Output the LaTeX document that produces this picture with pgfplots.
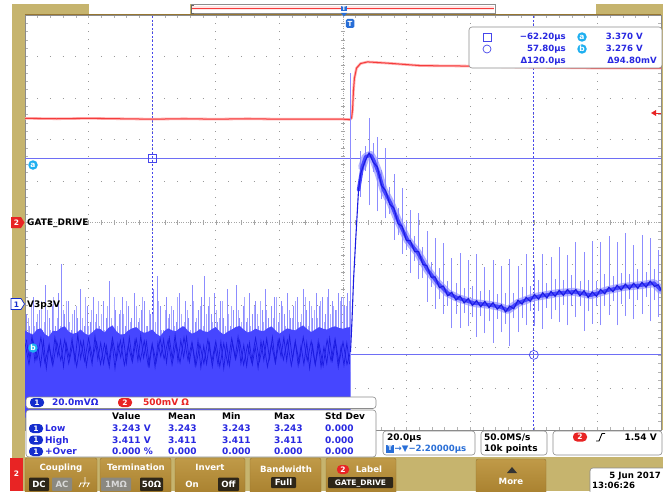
\documentclass[border=0pt]{standalone}
\usepackage{pgfplots}
\pgfplotsset{compat=1.18}
\usepackage{fontspec}
\setmainfont{DejaVu Sans}
\definecolor{tan}{RGB}{198,180,110}
\definecolor{tanline}{RGB}{150,118,50}
\definecolor{btn}{RGB}{168,128,46}
\definecolor{btnlight}{RGB}{192,154,72}
\definecolor{btndark}{RGB}{46,38,24}
\definecolor{btngray}{RGB}{138,136,128}
\definecolor{tekred}{RGB}{232,36,36}
\definecolor{trcred}{RGB}{245,60,60}
\definecolor{trclight}{RGB}{255,175,175}
\definecolor{cyanb}{RGB}{30,175,240}
\definecolor{curs}{RGB}{110,110,245}
\definecolor{cursd}{RGB}{70,70,235}
\definecolor{txtblue}{RGB}{40,40,225}
\definecolor{trA}{RGB}{28,28,225}
\definecolor{trB}{RGB}{70,70,255}
\definecolor{trC}{RGB}{180,180,255}
\definecolor{spk}{RGB}{140,140,255}
\definecolor{spkl}{RGB}{170,170,255}
\definecolor{chblue}{RGB}{20,45,205}
\definecolor{tblue}{RGB}{40,110,215}
\newcommand{\fsa}{\fontsize{9}{10}\selectfont\bfseries}
\newcommand{\fsb}{\fontsize{8.6}{10}\selectfont\bfseries}
\newcommand{\fsc}{\fontsize{7.5}{9}\selectfont\bfseries}
\tikzset{t/.style={anchor=west, inner sep=0pt, text height=6.8pt, text depth=1.8pt},
 te/.style={anchor=east, inner sep=0pt, text height=6.8pt, text depth=1.8pt},
 tc/.style={anchor=center, inner sep=0pt, text height=6.8pt, text depth=1.8pt},
 pill/.style={fill=chblue, text=white, rounded corners=4pt, inner sep=0pt, minimum width=14pt, minimum height=9pt, font=\fsc},
 rpill/.style={fill=tekred, text=white, rounded corners=4pt, inner sep=0pt, minimum width=14pt, minimum height=9pt, font=\fsc},
 cbadge/.style={circle, fill=cyanb, text=white, inner sep=0pt, minimum size=9.5pt, font=\fsc},
 rbox/.style={draw=black!45, fill=white, rounded corners=3pt, line width=0.6pt},
 button/.style={draw=tanline, top color=btnlight, bottom color=btn, rounded corners=2pt},
 dk/.style={fill=btndark, rounded corners=1pt},
 gy/.style={fill=btngray, rounded corners=1pt}}
\begin{document}
\begin{tikzpicture}
\useasboundingbox (0,0) rectangle (663pt,491pt);
\begin{scope}[shift={(0pt,491pt)},x=1pt,y=-1pt]
\fill[white] (0,0) rectangle (663,491);
\fill[tan] (12,4) rectangle (663,491);
\fill[white] (25,430) rectangle (663,457);
\fill[white] (89,4) rectangle (190,14);
\fill[white] (496,4) rectangle (596,14);
\draw[black!45, fill=white] (191,4.5) rectangle (495,13.5);
\fill[red!10] (192,6.5) rectangle (494,10.5);
\draw[trcred, line width=0.8pt] (192,8.5) -- (494,8.5);
\draw[black!60, line width=0.8pt] (194,5) -- (191,5) -- (191,13) -- (194,13);
\end{scope}

\begin{axis}[
  at={(25pt,61pt)}, anchor=south west,
  scale only axis, width=636pt, height=415pt,
  xmin=-100, xmax=100, ymin=-5, ymax=5,
  xtick={-100,-80,...,100}, ytick={-5,-4,...,5},
  minor x tick num=4, minor y tick num=4,
  xticklabels={}, yticklabels={},
  tick align=inside, major tick length=3pt, minor tick length=3pt,
  tick style={black!30, line width=0.6pt},
  xmajorgrids=true, ymajorgrids=true,
  x grid style={black!40, line width=0.9pt, dash pattern=on 0.9pt off 7.4pt, dash phase=0.45pt},
  y grid style={black!40, line width=0.9pt, dash pattern=on 0.9pt off 11.82pt, dash phase=0.45pt},
  axis line style={black!45, line width=0.6pt},
  axis background/.style={fill=white},
  clip=true,
]
% centre lines of the graticule
\draw[black!35, dash pattern=on 1pt off 1.4pt] (axis cs:0,-5) -- (axis cs:0,5);
\draw[black!35, dash pattern=on 1pt off 1.4pt] (axis cs:-100,0) -- (axis cs:100,0);
\pgfplotsinvokeforeach{0,...,50}{
  \draw[black!35, line width=0.6pt] (axis cs:-0.7,{-5+0.2*#1}) -- (axis cs:0.7,{-5+0.2*#1});
  \draw[black!35, line width=0.6pt] (axis cs:{-100+4*#1},-0.055) -- (axis cs:{-100+4*#1},0.055);
}
% cursors
\addplot[curs, mark=none, line width=1pt] coordinates {(-100,1.55) (100,1.55)};
\addplot[curs, mark=none, line width=1pt] coordinates {(-100,-3.19) (100,-3.19)};
\addplot[cursd, mark=none, line width=0.7pt, dash pattern=on 2pt off 2pt] coordinates {(-60,-5) (-60,5)};
\addplot[cursd, mark=none, line width=0.7pt, dash pattern=on 2pt off 2pt] coordinates {(60,-5) (60,5)};
% channel 2 (GATE_DRIVE), in divisions
\addplot[trclight, mark=none, line width=2.6pt, line join=round] coordinates {
(-100,2.51) (-90,2.50) (-80,2.51) (-70,2.50) (-60,2.49) (-50,2.50) (-40,2.49) (-30,2.50) (-20,2.49) (-10,2.49) (0,2.49) (2.2,2.48) (2.7,2.52) (3.0,2.71) (3.3,3.19) (3.6,3.48) (4.25,3.72) (5.5,3.83) (7.7,3.87) (14,3.84) (24.4,3.78) (38.6,3.77) (60,3.74) (81,3.72) (100,3.72)};
\addplot[trcred, mark=none, line width=1pt, line join=round] coordinates {
(-100,2.51) (-90,2.50) (-80,2.51) (-70,2.50) (-60,2.49) (-50,2.50) (-40,2.49) (-30,2.50) (-20,2.49) (-10,2.49) (0,2.49) (2.2,2.48) (2.7,2.52) (3.0,2.71) (3.3,3.19) (3.6,3.48) (4.25,3.72) (5.5,3.83) (7.7,3.87) (14,3.84) (24.4,3.78) (38.6,3.77) (60,3.74) (81,3.72) (100,3.72)};
% channel 1 (V3p3V) before the edge: noise spikes, each from y (bottom) with length v
\addplot[spkl, line width=0.6pt, mark=none, quiver={u=0, v=\thisrow{v}}] table[x=x, y=y] {
x y v
-99 -4.4 2.1
-98 -4.4 2.4
-97 -4.4 1.9
-96 -4.4 2.2
-95 -4.4 2.5
-94 -4.4 2.0
-93 -4.4 2.3
-92 -4.4 1.8
-91 -4.4 2.6
-90 -4.4 2.1
-89 -4.4 1.9
-88 -4.4 2.3
-87 -4.4 2.5
-86 -4.4 2.0
-85 -4.4 2.2
-84 -4.4 2.4
-83 -4.4 1.8
-82 -4.4 2.1
-81 -4.4 2.6
-80 -4.4 1.9
-79 -4.4 2.3
-78 -4.4 2.0
-77 -4.4 2.5
-76 -4.4 2.2
-75 -4.4 1.8
-74 -4.4 2.4
-73 -4.4 2.1
-72 -4.4 2.6
-71 -4.4 1.9
-70 -4.4 2.3
-69 -4.4 2.2
-68 -4.4 2.5
-67 -4.4 2.0
-66 -4.4 1.8
-65 -4.4 2.4
-64 -4.4 2.1
-63 -4.4 2.6
-62 -4.4 1.9
-61 -4.4 2.3
-60 -4.4 2.2
-59 -4.4 2.0
-58 -4.4 2.5
-57 -4.4 1.8
-56 -4.4 2.3
-55 -4.4 2.1
-54 -4.4 2.4
-53 -4.4 1.9
-52 -4.4 2.6
-51 -4.4 2.2
-50 -4.4 2.0
-49 -4.4 2.3
-48 -4.4 1.8
-47 -4.4 2.5
-46 -4.4 2.1
-45 -4.4 2.4
-44 -4.4 1.9
-43 -4.4 2.2
-42 -4.4 2.6
-41 -4.4 2.0
-40 -4.4 2.3
-39 -4.4 2.1
-38 -4.4 2.5
-37 -4.4 1.9
-36 -4.4 2.2
-35 -4.4 2.4
-34 -4.4 1.8
-33 -4.4 2.3
-32 -4.4 2.0
-31 -4.4 2.6
-30 -4.4 2.1
-29 -4.4 1.9
-28 -4.4 2.4
-27 -4.4 2.2
-26 -4.4 2.5
-25 -4.4 2.0
-24 -4.4 2.3
-23 -4.4 1.8
-22 -4.4 2.1
-21 -4.4 2.6
-20 -4.4 2.2
-19 -4.4 2.4
-18 -4.4 1.9
-17 -4.4 2.3
-16 -4.4 2.1
-15 -4.4 2.5
-14 -4.4 2.0
-13 -4.4 2.2
-12 -4.4 2.6
-11 -4.4 1.9
-10 -4.4 2.4
-9 -4.4 2.3
-8 -4.4 2.1
-7 -4.4 2.5
-6 -4.4 2.0
-5 -4.4 2.6
-4 -4.4 2.2
-3 -4.4 2.4
-2 -4.4 2.3
-1 -4.4 2.5
0 -4.4 2.6
1 -4.4 2.4
2 -4.4 2.5
};
\addplot[spk, line width=0.6pt, mark=none, quiver={u=0, v=\thisrow{v}}] table[x=x, y=y] {
x y v
-99.5 -4.4 2.2
-98.5 -4.4 1.9
-97.5 -4.4 2.6
-96.5 -4.4 2.0
-95.5 -4.4 2.3
-94.5 -4.4 1.8
-93.5 -4.4 2.9
-92.5 -4.4 2.1
-91.5 -4.4 2.4
-90.5 -4.4 1.9
-89.5 -4.4 2.7
-88.5 -4.4 3.4
-87.5 -4.4 2.2
-86.5 -4.4 2.5
-85.5 -4.4 1.8
-84.5 -4.4 2.3
-83.5 -4.4 2.1
-82.5 -4.4 2.8
-81.5 -4.4 1.9
-80.5 -4.4 2.4
-79.5 -4.4 2.0
-78.5 -4.4 2.6
-77.5 -4.4 2.2
-76.5 -4.4 1.9
-75.5 -4.4 2.5
-74.5 -4.4 2.1
-73.5 -4.4 3.0
-72.5 -4.4 1.8
-71.5 -4.4 2.3
-70.5 -4.4 2.2
-69.5 -4.4 2.6
-68.5 -4.4 1.9
-67.5 -4.4 2.4
-66.5 -4.4 2.1
-65.5 -4.4 2.7
-64.5 -4.4 2.0
-63.5 -4.4 2.3
-62.5 -4.4 2.5
-61.5 -4.4 1.9
-60.5 -4.4 2.2
-59.5 -4.4 2.8
-58.5 -4.4 3.1
-57.5 -4.4 2.4
-56.5 -4.4 1.8
-55.5 -4.4 2.6
-54.5 -4.4 2.2
-53.5 -4.4 2.3
-52.5 -4.4 2.0
-51.5 -4.4 2.7
-50.5 -4.4 1.9
-49.5 -4.4 2.5
-48.5 -4.4 2.1
-47.5 -4.4 2.9
-46.5 -4.4 2.0
-45.5 -4.4 2.3
-44.5 -4.4 2.6
-43.5 -4.4 3.1
-42.5 -4.4 2.4
-41.5 -4.4 2.2
-40.5 -4.4 2.7
-39.5 -4.4 2.0
-38.5 -4.4 2.5
-37.5 -4.4 2.1
-36.5 -4.4 2.8
-35.5 -4.4 1.9
-34.5 -4.4 2.3
-33.5 -4.4 2.9
-32.5 -4.4 2.1
-31.5 -4.4 2.4
-30.5 -4.4 2.0
-29.5 -4.4 2.7
-28.5 -4.4 2.2
-27.5 -4.4 2.5
-26.5 -4.4 1.9
-25.5 -4.4 2.3
-24.5 -4.4 2.8
-23.5 -4.4 2.1
-22.5 -4.4 2.4
-21.5 -4.4 2.6
-20.5 -4.4 2.0
-19.5 -4.4 2.5
-18.5 -4.4 2.2
-17.5 -4.4 2.7
-16.5 -4.4 2.1
-15.5 -4.4 2.4
-14.5 -4.4 2.6
-13.5 -4.4 2.0
-12.5 -4.4 2.8
-11.5 -4.4 2.3
-10.5 -4.4 2.5
-9.5 -4.4 2.1
-8.5 -4.4 2.7
-7.5 -4.4 2.4
-6.5 -4.4 2.6
-5.5 -4.4 2.2
-4.5 -4.4 2.8
-3.5 -4.4 2.5
-2.5 -4.4 2.3
-1.5 -4.4 2.7
-0.5 -4.4 2.6
0.5 -4.4 2.4
1.5 -4.4 2.7
};
\addplot[fill=trB, draw=none, mark=none] coordinates {
(-100,-2.60) (-98.75,-2.66) (-97.5,-2.70) (-96.25,-2.58) (-95,-2.55) (-93.75,-2.69) (-92.5,-2.75) (-91.25,-2.61) (-90,-2.62) (-88.75,-2.54) (-87.5,-2.50) (-86.25,-2.63) (-85,-2.68) (-83.75,-2.66) (-82.5,-2.58) (-81.25,-2.67) (-80,-2.72) (-78.75,-2.64) (-77.5,-2.55) (-76.25,-2.57) (-75,-2.65) (-73.75,-2.54) (-72.5,-2.48) (-71.25,-2.62) (-70,-2.70) (-68.75,-2.69) (-67.5,-2.60) (-66.25,-2.55) (-65,-2.52) (-63.75,-2.61) (-62.5,-2.66) (-61.25,-2.63) (-60,-2.58) (-58.75,-2.68) (-57.5,-2.74) (-56.25,-2.62) (-55,-2.55) (-53.75,-2.60) (-52.5,-2.62) (-51.25,-2.54) (-50,-2.50) (-48.75,-2.61) (-47.5,-2.68) (-46.25,-2.64) (-45,-2.57) (-43.75,-2.62) (-42.5,-2.64) (-41.25,-2.57) (-40,-2.52) (-38.75,-2.63) (-37.5,-2.70) (-36.25,-2.63) (-35,-2.58) (-33.75,-2.52) (-32.5,-2.49) (-31.25,-2.58) (-30,-2.65) (-28.75,-2.62) (-27.5,-2.56) (-26.25,-2.60) (-25,-2.62) (-23.75,-2.55) (-22.5,-2.50) (-21.25,-2.60) (-20,-2.68) (-18.75,-2.61) (-17.5,-2.55) (-16.25,-2.58) (-15,-2.60) (-13.75,-2.53) (-12.5,-2.48) (-11.25,-2.57) (-10,-2.64) (-8.75,-2.58) (-7.5,-2.52) (-6.25,-2.56) (-5,-2.58) (-3.75,-2.53) (-2.5,-2.50) (-1.25,-2.54) (0,-2.56) (1.25,-2.53) (2.4,-2.52) (2.4,-4.7) (-100,-4.7)} -- cycle;
\addplot[trA, mark=none, line width=0.7pt] coordinates {
(-100,-2.90) (-98.75,-3.42) (-97.5,-2.84) (-96.25,-3.30) (-95,-2.77) (-93.75,-3.38) (-92.5,-2.97) (-91.25,-3.45) (-90,-2.87) (-88.75,-3.32) (-87.5,-2.82) (-86.25,-3.40) (-85,-2.94) (-83.75,-3.47) (-82.5,-2.86) (-81.25,-3.34) (-80,-2.79) (-78.75,-3.27) (-77.5,-2.88) (-76.25,-3.42) (-75,-2.92) (-73.75,-3.39) (-72.5,-2.78) (-71.25,-3.31) (-70,-2.84) (-68.75,-3.44) (-67.5,-2.96) (-66.25,-3.37) (-65,-2.81) (-63.75,-3.33) (-62.5,-2.85) (-61.25,-3.46) (-60,-2.93) (-58.75,-3.36) (-57.5,-2.80) (-56.25,-3.29) (-55,-2.83) (-53.75,-3.43) (-52.5,-2.90) (-51.25,-3.38) (-50,-2.77) (-48.75,-3.32) (-47.5,-2.88) (-46.25,-3.45) (-45,-2.94) (-43.75,-3.40) (-42.5,-2.82) (-41.25,-3.35) (-40,-2.86) (-38.75,-3.47) (-37.5,-2.91) (-36.25,-3.41) (-35,-2.79) (-33.75,-3.30) (-32.5,-2.85) (-31.25,-3.43) (-30,-2.95) (-28.75,-3.36) (-27.5,-2.78) (-26.25,-3.34) (-25,-2.87) (-23.75,-3.48) (-22.5,-2.92) (-21.25,-3.39) (-20,-2.81) (-18.75,-3.31) (-17.5,-2.84) (-16.25,-3.45) (-15,-2.89) (-13.75,-3.37) (-12.5,-2.76) (-11.25,-3.33) (-10,-2.86) (-8.75,-3.42) (-7.5,-2.93) (-6.25,-3.46) (-5,-2.83) (-3.75,-3.34) (-2.5,-2.80) (-1.25,-3.39) (0,-2.88) (1.25,-3.42) (2.36,-3.12)};
\addplot[trA, mark=none, line width=0.7pt] coordinates {
(-99.6,-2.82) (-98.7,-3.27) (-97.8,-2.74) (-96.9,-3.34) (-96.0,-3.00) (-95.1,-3.45) (-94.2,-2.85) (-93.3,-3.52) (-92.4,-2.94) (-91.5,-3.37) (-90.6,-2.77) (-89.7,-3.22) (-88.8,-2.84) (-87.9,-3.48) (-87.0,-2.92) (-86.1,-3.26) (-85.2,-2.80) (-84.3,-3.36) (-83.4,-2.70) (-82.5,-3.28) (-81.6,-2.86) (-80.7,-3.46) (-79.8,-3.00) (-78.9,-3.42) (-78.0,-2.74) (-77.1,-3.30) (-76.2,-2.90) (-75.3,-3.40) (-74.4,-2.97) (-73.5,-3.48) (-72.6,-2.88) (-71.7,-3.52) (-70.8,-2.92) (-69.9,-3.25) (-69.0,-2.81) (-68.1,-3.39) (-67.2,-2.77) (-66.3,-3.29) (-65.4,-2.83) (-64.5,-3.33) (-63.6,-2.73) (-62.7,-3.26) (-61.8,-2.87) (-60.9,-3.45) (-60.0,-2.93) (-59.1,-3.49) (-58.2,-2.89) (-57.3,-3.23) (-56.4,-2.82) (-55.5,-3.38) (-54.6,-2.78) (-53.7,-3.28) (-52.8,-2.71) (-51.9,-3.34) (-51.0,-2.84) (-50.1,-3.25) (-49.2,-2.76) (-48.3,-3.36) (-47.4,-2.94) (-46.5,-3.44) (-45.6,-2.85) (-44.7,-3.50) (-43.8,-2.97) (-42.9,-3.41) (-42.0,-2.91) (-41.1,-3.47) (-40.2,-3.00) (-39.3,-3.43) (-38.4,-2.87) (-37.5,-3.52) (-36.6,-2.93) (-35.7,-3.45) (-34.8,-2.89) (-33.9,-3.26) (-33.0,-2.75) (-32.1,-3.40) (-31.2,-2.95) (-30.3,-3.46) (-29.4,-2.90) (-28.5,-3.42) (-27.6,-2.99) (-26.7,-3.51) (-25.8,-2.86) (-24.9,-3.32) (-24.0,-2.80) (-23.1,-3.28) (-22.2,-2.76) (-21.3,-3.36) (-20.4,-2.83) (-19.5,-3.23) (-18.6,-2.77) (-17.7,-3.33) (-16.8,-2.74) (-15.9,-3.30) (-15.0,-2.85) (-14.1,-3.45) (-13.2,-2.97) (-12.3,-3.42) (-11.4,-2.89) (-10.5,-3.52) (-9.6,-2.95) (-8.7,-3.43) (-7.8,-2.86) (-6.9,-3.48) (-6.0,-3.00) (-5.1,-3.40) (-4.2,-2.78) (-3.3,-3.32) (-2.4,-2.87) (-1.5,-3.49) (-0.6,-2.98) (0.3,-3.44) (1.2,-2.90) (2.1,-3.42)};
% channel 1 after the edge
\addplot[trC, mark=none, line width=8pt, line join=round, line cap=round] coordinates {
(6.05,1.34) (7.09,1.58) (8.66,1.63) (9.61,1.51) (11.2,1.19) (12.8,0.78) (15.0,0.47) (17.2,0.06) (20.3,-0.42) (23.5,-0.73) (26.6,-1.14) (29.8,-1.46) (32.9,-1.70) (36.1,-1.82) (41.1,-1.94) (46.5,-1.99) (49.6,-2.04) (51.8,-2.11) (55.0,-1.94) (60.0,-1.80) (67.6,-1.70) (72.6,-1.67) (78.0,-1.75) (83.3,-1.63) (88.3,-1.55) (93.7,-1.51) (97.8,-1.46) (100,-1.63)};
\addplot[spk, line width=0.7pt, mark=none, quiver={u=0, v=\thisrow{v}}] table[x=x, y=y] {
x y v
2.2 -3.6 7.2
5.6 0.62 1.1
6.9 1.24 0.6
8.2 0.41 2.1
9.5 1.22 0.7
10.8 0.27 1.8
12.1 0.56 0.7
13.4 0.10 1.7
14.7 0.21 0.65
16.0 -0.42 1.6
17.3 -0.31 0.65
18.6 -0.76 1.6
19.9 -0.66 0.7
21.2 -1.21 1.5
22.5 -0.93 0.6
23.8 -1.37 1.6
25.1 -1.34 0.75
26.4 -1.91 1.7
27.7 -1.55 0.6
29.0 -2.08 1.7
30.3 -1.85 0.75
31.6 -2.20 1.7
32.9 -2.00 0.6
34.2 -2.55 1.7
35.5 -2.20 0.75
36.8 -2.54 1.8
38.1 -2.17 0.6
39.4 -2.50 1.6
40.7 -2.28 0.75
42.0 -2.75 2.0
43.3 -2.26 0.6
44.6 -2.67 1.6
45.9 -2.38 0.75
47.2 -2.90 2.0
48.5 -2.32 0.6
49.8 -2.65 1.6
51.1 -2.44 0.75
52.4 -2.98 2.1
53.7 -2.31 0.6
55.0 -2.64 1.6
56.3 -2.30 0.75
57.6 -2.47 1.7
58.9 -2.13 0.6
60.2 -2.50 1.5
61.5 -2.13 0.75
62.8 -2.56 1.8
64.1 -2.05 0.6
65.4 -2.33 1.5
66.7 -2.11 0.75
68.0 -2.40 1.8
69.3 -1.99 0.6
70.6 -2.48 1.7
71.9 -2.02 0.75
73.2 -2.28 1.8
74.5 -2.00 0.6
75.8 -2.61 1.9
77.1 -2.14 0.75
78.4 -2.44 2.0
79.7 -2.01 0.6
81.0 -2.48 2.0
82.3 -2.00 0.75
83.6 -2.23 1.9
84.9 -1.90 0.6
86.2 -2.48 2.0
87.5 -1.96 0.75
88.8 -2.25 2.0
90.1 -1.84 0.6
91.4 -2.33 1.8
92.7 -1.87 0.75
94.0 -2.21 1.9
95.3 -1.79 0.6
96.6 -2.38 2.0
97.9 -1.87 0.75
99.2 -2.27 1.6
};
\addplot[trB, mark=none, line width=3.5pt, line join=round, line cap=round] coordinates {
(4.88,0.78) (6.05,1.34) (7.09,1.58) (8.66,1.63) (9.61,1.51) (11.2,1.19) (12.8,0.78) (15.0,0.47) (17.2,0.06) (20.3,-0.42) (23.5,-0.73) (26.6,-1.14) (29.8,-1.46) (32.9,-1.70) (36.1,-1.82) (41.1,-1.94) (46.5,-1.99) (49.6,-2.04) (51.8,-2.11) (55.0,-1.94) (60.0,-1.80) (67.6,-1.70) (72.6,-1.67) (78.0,-1.75) (83.3,-1.63) (88.3,-1.55) (93.7,-1.51) (97.8,-1.46) (100,-1.63)};
\addplot[trA, mark=none, line width=1.1pt, line join=round] coordinates {
(2.36,-3.12) (2.83,-2.35) (3.31,-1.39) (3.94,-0.49) (4.88,0.78)
(5.6,1.19) (6.9,1.47) (8.2,1.68) (9.5,1.45) (10.8,1.34) (12.1,0.89) (13.4,0.77) (14.7,0.44) (16.0,0.35) (17.3,-0.03) (18.6,-0.09) (19.9,-0.43) (21.2,-0.44) (22.5,-0.70) (23.8,-0.70) (25.1,-1.01) (26.4,-1.04) (27.7,-1.32) (29.0,-1.31) (30.3,-1.57) (31.6,-1.53) (32.9,-1.77) (34.2,-1.68) (35.5,-1.87) (36.8,-1.77) (38.1,-1.94) (39.4,-1.83) (40.7,-2.00) (42.0,-1.88) (43.3,-2.03) (44.6,-1.90) (45.9,-2.05) (47.2,-1.93) (48.5,-2.09) (49.8,-1.98) (51.1,-2.16) (52.4,-2.01) (53.7,-2.08) (55.0,-1.87) (56.3,-1.97) (57.6,-1.80) (58.9,-1.90) (60.2,-1.73) (61.5,-1.85) (62.8,-1.69) (64.1,-1.82) (65.4,-1.66) (66.7,-1.78) (68.0,-1.63) (69.3,-1.76) (70.6,-1.61) (71.9,-1.74) (73.2,-1.61) (74.5,-1.77) (75.8,-1.64) (77.1,-1.81) (78.4,-1.67) (79.7,-1.78) (81.0,-1.61) (82.3,-1.72) (83.6,-1.56) (84.9,-1.67) (86.2,-1.51) (87.5,-1.63) (88.8,-1.48) (90.1,-1.61) (91.4,-1.46) (92.7,-1.59) (94.0,-1.44) (95.3,-1.56) (96.6,-1.41) (97.9,-1.54) (99.2,-1.50) (100,-1.63)};
% cursor marks
\addplot[only marks, mark=square, mark size=4pt, cursd, mark options={line width=0.7pt, fill=none}] coordinates {(-60,1.55)};
\addplot[only marks, mark=o, mark size=4.5pt, cursd, mark options={line width=0.7pt, fill=none}] coordinates {(60,-3.19)};
\end{axis}

\begin{scope}[shift={(0pt,491pt)},x=1pt,y=-1pt]
\draw[tanline, line width=1pt] (25,14.6) -- (661,14.6);
% trigger markers
\node[fill=tblue, text=white, inner sep=0.6pt, font=\fontsize{6}{6}\selectfont\bfseries] at (344,8.5) {T};
\fill[tblue] (341,13) -- (347,13) -- (344,16.5) -- cycle;
\node[fill=tblue, rounded corners=1.5pt, text=white, inner sep=0pt, minimum width=8.5pt, minimum height=9pt, font=\fontsize{7}{7}\selectfont\bfseries] at (350,23.5) {T};
\fill[tekred] (651,113) -- (656,110) -- (656,116) -- cycle;
\draw[tekred, line width=0.8pt] (655,113) -- (661,113);
% left markers
\node[cbadge] at (33,165) {a};
\node[cbadge] at (33,348) {b};
\fill[tekred] (11,217) -- (21,217) -- (24.5,222.5) -- (21,228) -- (11,228) -- cycle;
\node[tc, text=white, font=\fsc] at (16.5,223) {2};
\node[t, font=\fsa] at (27,223) {GATE\_DRIVE};
\filldraw[fill=white, draw=chblue, line width=0.7pt] (11,298.5) -- (21,298.5) -- (24.5,304) -- (21,309.5) -- (11,309.5) -- cycle;
\node[tc, text=chblue, font=\fsc] at (16.5,304.5) {1};
\node[t, font=\fsa] at (27,304.5) {V3p3V};
% cursor readout
\draw[rbox] (469,27) rectangle (662,68);
\draw[cursd, line width=0.7pt] (483,33) rectangle (491,41);
\draw[cursd, line width=0.7pt] (487,49) circle (4pt);
\begin{scope}[every node/.style={font=\fsb, text=txtblue}]
\node[te] at (566,37.5) {−62.20µs};
\node[te] at (566,49.5) {57.80µs};
\node[te] at (566,61.5) {Δ120.0µs};
\node[te] at (643,37.5) {3.370 V};
\node[te] at (643,49.5) {3.276 V};
\node[te] at (657,61.5) {Δ94.80mV};
\end{scope}
\node[cbadge] at (582,37) {a};
\node[cbadge] at (582,49) {b};
% channel scale and measurements
\draw[rbox] (26,397) rectangle (376,408.5);
\node[pill] at (37,402.5) {1};
\node[t, font=\fsa, text=txtblue] at (52,403) {20.0mVΩ};
\node[rpill] at (125,402.5) {2};
\node[t, font=\fsa, text=tekred] at (143,403) {500mV Ω};
\draw[rbox] (26,410) rectangle (376,457);
\begin{scope}[every node/.style={t, font=\fsa}]
\node at (112,417) {Value};
\node at (168,417) {Mean};
\node at (222,417) {Min};
\node at (274,417) {Max};
\node at (325,417) {Std Dev};
\end{scope}
\node[pill] at (36,428.5) {1};
\node[pill] at (36,440) {1};
\node[pill] at (36,451.5) {1};
\begin{scope}[every node/.style={t, font=\fsa, text=txtblue}]
\node at (45,429) {Low};
\node at (45,440.5) {High};
\node at (45,452) {+Over};
\node at (112,429) {3.243 V};
\node at (168,429) {3.243};
\node at (222,429) {3.243};
\node at (274,429) {3.243};
\node at (325,429) {0.000};
\node at (112,440.5) {3.411 V};
\node at (168,440.5) {3.411};
\node at (222,440.5) {3.411};
\node at (274,440.5) {3.411};
\node at (325,440.5) {0.000};
\node at (112,452) {0.000 \%};
\node at (168,452) {0.000};
\node at (222,452) {0.000};
\node at (274,452) {0.000};
\node at (325,452) {0.000};
\end{scope}
% horizontal / acquisition / trigger readouts
\draw[rbox] (383,431) rectangle (475,455);
\node[t, font=\fsa] at (387,437.5) {20.0µs};
\node[fill=tblue, text=white, inner sep=0pt, minimum width=7.5pt, minimum height=8pt, font=\fontsize{6.5}{6.5}\selectfont\bfseries] at (390,448.5) {T};
\node[t, font=\fsb, text=tblue] at (394.5,449) {→▼−2.20000µs};
\draw[rbox] (481,431) rectangle (547,455);
\node[t, font=\fsa] at (484,437.5) {50.0MS/s};
\node[t, font=\fsa] at (484,449) {10k points};
\draw[rbox] (553,431) rectangle (662,455);
\node[rpill] at (580,437) {2};
\draw[black, line width=0.9pt] (596,441) -- (599,441) -- (602,433.5) -- (605,433.5);
\node[te, font=\fsa] at (657,437.5) {1.54 V};
% bottom menu
\fill[tekred] (10,458) rectangle (23,491);
\node[tc, text=white, font=\fsc] at (16.5,474) {2};
\draw[button] (25,458) rectangle (97,495);
\node[tc, text=white, font=\fsb] at (61,468) {Coupling};
\fill[dk] (29,477.5) rectangle (49,491);
\node[tc, text=white, font=\fsb] at (39,485) {DC};
\fill[gy] (52,477.5) rectangle (72,491);
\node[tc, text=black!15, font=\fsb] at (62,485) {AC};
\draw[white, line width=0.7pt] (85,477) -- (85,483) (80,483) -- (90,483) (81,483) -- (79,487) (85,483) -- (83,487) (89,483) -- (87,487);
\draw[button] (100,458) rectangle (171,495);
\node[tc, text=white, font=\fsb] at (136,468) {Termination};
\fill[gy] (101,477.5) rectangle (131,491);
\node[tc, text=black!15, font=\fsb] at (116,485) {1MΩ};
\fill[dk] (140,477.5) rectangle (163,491);
\node[tc, text=white, font=\fsb] at (151.5,485) {50Ω};
\draw[button] (175,458) rectangle (245,495);
\node[tc, text=white, font=\fsb] at (210,468) {Invert};
\node[tc, text=white, font=\fsb] at (192,485) {On};
\fill[dk] (218,477.5) rectangle (239,491);
\node[tc, text=white, font=\fsb] at (228.5,485) {Off};
\draw[button] (250,458) rectangle (321,495);
\node[tc, text=white, font=\fsb] at (286,470) {Bandwidth};
\fill[dk] (271,477) rectangle (296,488);
\node[tc, text=white, font=\fsb] at (283.5,482.5) {Full};
\draw[button] (326,458) rectangle (396,495);
\node[rpill, minimum width=12pt] at (343,469.5) {2};
\node[tc, text=white, font=\fsb] at (369,470) {Label};
\fill[dk] (328,477) rectangle (393,488);
\node[tc, text=white, font=\fsc] at (360.5,482.5) {GATE\_DRIVE};
\draw[button] (476,459) rectangle (546,495);
\fill[black!80] (507,473) -- (517,473) -- (512,467) -- cycle;
\node[tc, text=white, font=\fsb] at (511,482) {More};
\draw[rbox] (590,468) rectangle (666,495);
\node[te, font=\fsb] at (661,475.5) {5 Jun 2017};
\node[t, font=\fsb] at (592,486) {13:06:26};
\end{scope}
\end{tikzpicture}
\end{document}
